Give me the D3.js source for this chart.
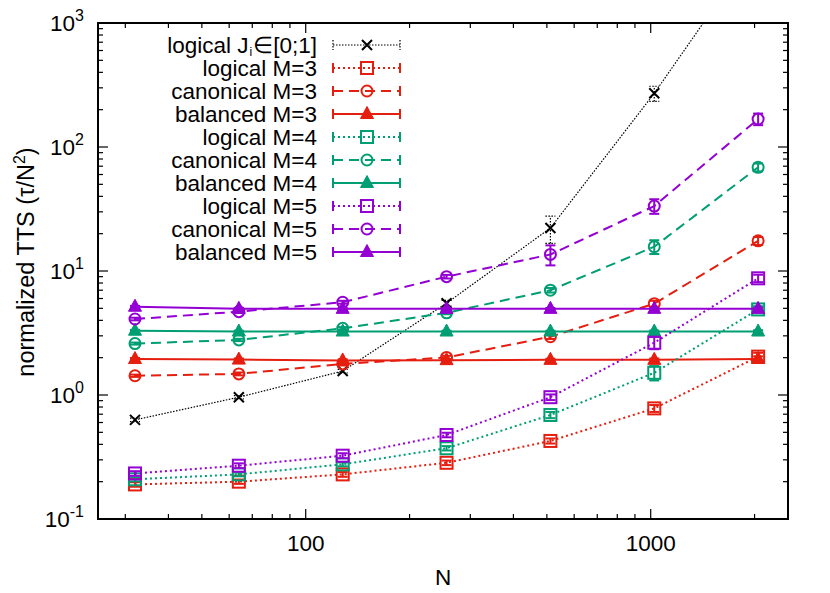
<!DOCTYPE html>
<html>
<head>
<meta charset="utf-8">
<script src="https://cdn.jsdelivr.net/npm/d3@7"></script>
<style>
  body { margin: 0; background: #fff; }
  text { font-family: "Liberation Sans", Arial, sans-serif; fill: #000; }
</style>
</head>
<body>
<script>
// system sizes on the x axis
var sizes = [32, 64, 128, 256, 512, 1024, 2048];

// normalized TTS per series, with error bar half widths
var logicalJ = [0.63, 0.96, 1.56, 5.5, 22.2, 271, 4300];
var logicalJErr = [0.02, 0.03, 0.05, 0.3, 5.5, 38, 500];

var logicalM3 = [0.19, 0.2, 0.229, 0.284, 0.426, 0.78, 2.04];
var logicalM3Err = [0.008, 0.008, 0.01, 0.012, 0.02, 0.05, 0.15];
var canonicalM3 = [1.43, 1.48, 1.78, 2.01, 2.95, 5.45, 17.5];
var canonicalM3Err = [0.03, 0.04, 0.05, 0.06, 0.12, 0.3, 1.3];
var balancedM3 = [1.95, 1.93, 1.9, 1.91, 1.92, 1.92, 1.95];
var balancedM3Err = [0.04, 0.04, 0.04, 0.04, 0.04, 0.05, 0.1];

var logicalM4 = [0.209, 0.229, 0.276, 0.372, 0.69, 1.51, 4.9];
var logicalM4Err = [0.008, 0.008, 0.01, 0.015, 0.04, 0.2, 0.3];
var canonicalM4 = [2.6, 2.78, 3.45, 4.6, 7.0, 15.7, 68.6];
var canonicalM4Err = [0.05, 0.06, 0.08, 0.12, 0.3, 2.0, 5.0];
var balancedM4 = [3.3, 3.25, 3.25, 3.25, 3.25, 3.25, 3.25];
var balancedM4Err = [0.05, 0.05, 0.05, 0.05, 0.05, 0.06, 0.08];

var logicalM5 = [0.233, 0.269, 0.324, 0.476, 0.96, 2.64, 8.73];
var logicalM5Err = [0.01, 0.012, 0.015, 0.02, 0.05, 0.3, 0.6];
var canonicalM5 = [4.1, 4.7, 5.6, 9.0, 13.6, 33.4, 168];
var canonicalM5Err = [0.1, 0.12, 0.15, 0.3, 2.5, 4.5, 18];
var balancedM5 = [5.15, 4.95, 4.95, 4.95, 4.95, 4.95, 4.95];
var balancedM5Err = [0.08, 0.08, 0.08, 0.08, 0.08, 0.08, 0.1];

// legend labels, in drawing order
var labels = ["logical J", "logical M=3", "canonical M=3", "balanced M=3",
              "logical M=4", "canonical M=4", "balanced M=4",
              "logical M=5", "canonical M=5", "balanced M=5"];

// tick values
var xMajor = [100, 1000];
var yMajor = [0.1, 1, 10, 100, 1000];
var yExponents = ["-1", "0", "1", "2", "3"];


// colours and styles (gnuplot defaults)
var red = "#e51e10", green = "#009e73", purple = "#9400d3";
var styles = {
  black:   {width: 1.2, dash: "1.5,1.5", mark: "cross"},
  logical: {width: 2, dash: "2,3", mark: "square"},
  canon:   {width: 2, dash: "10,6", mark: "circle"},
  balance: {width: 2, dash: null, mark: "triangle"}
};

var series = [
  {vals: logicalJ, err: logicalJErr, color: "#000", st: styles.black},
  {vals: logicalM3, err: logicalM3Err, color: red, st: styles.logical},
  {vals: canonicalM3, err: canonicalM3Err, color: red, st: styles.canon},
  {vals: balancedM3, err: balancedM3Err, color: red, st: styles.balance},
  {vals: logicalM4, err: logicalM4Err, color: green, st: styles.logical},
  {vals: canonicalM4, err: canonicalM4Err, color: green, st: styles.canon},
  {vals: balancedM4, err: balancedM4Err, color: green, st: styles.balance},
  {vals: logicalM5, err: logicalM5Err, color: purple, st: styles.logical},
  {vals: canonicalM5, err: canonicalM5Err, color: purple, st: styles.canon},
  {vals: balancedM5, err: balancedM5Err, color: purple, st: styles.balance}
];

// plot box and font sizes
var box = {left: 98, right: 788, top: 23, bottom: 519};
var font = "22.5px", supFont = "16px";

var svg = d3.select("body").append("svg")
            .attr("width", 830)
            .attr("height", 593);

var x = d3.scaleLog().domain([25, 2500]).range([box.left, box.right]);
var y = d3.scaleLog().domain([0.1, 1000]).range([box.bottom, box.top]);


function drawAxes() {
  /*
  ticks on all four sides, labels at the
  bottom and left, then the frame
  */
  var xMinor = x.ticks().filter(function(d) { return xMajor.indexOf(d) < 0; });
  var yMinor = y.ticks().filter(function(d) { return yMajor.indexOf(d) < 0; });
  var ticks = svg.append("g").attr("stroke", "#000").attr("stroke-width", 1.2);

  function xTicks(vals, len) {
    vals.forEach(function(d) {
      ticks.append("line").attr("x1", x(d)).attr("x2", x(d))
           .attr("y1", box.bottom).attr("y2", box.bottom - len);
      ticks.append("line").attr("x1", x(d)).attr("x2", x(d))
           .attr("y1", box.top).attr("y2", box.top + len);
    });
  }
  function yTicks(vals, len) {
    vals.forEach(function(d) {
      ticks.append("line").attr("y1", y(d)).attr("y2", y(d))
           .attr("x1", box.left).attr("x2", box.left + len);
      ticks.append("line").attr("y1", y(d)).attr("y2", y(d))
           .attr("x1", box.right).attr("x2", box.right - len);
    });
  }
  xTicks(xMajor, 10);
  xTicks(xMinor, 5);
  yTicks(yMajor, 10);
  yTicks(yMinor, 5);

  // frame
  svg.append("rect")
     .attr("x", box.left).attr("y", box.top)
     .attr("width", box.right - box.left)
     .attr("height", box.bottom - box.top)
     .attr("fill", "none").attr("stroke", "#000").attr("stroke-width", 2);

  // x tick labels
  svg.selectAll(".xlab").data(xMajor).enter()
     .append("text")
     .attr("x", function(d) { return x(d); })
     .attr("y", box.bottom + 32)
     .attr("text-anchor", "middle")
     .style("font-size", font)
     .text(function(d) { return d; });

  // y tick labels with exponents
  yMajor.forEach(function(d, i) {
    var t = svg.append("text")
               .attr("x", 84)
               .attr("y", y(d) + 8)
               .attr("text-anchor", "end")
               .style("font-size", font);
    t.append("tspan").text("10");
    t.append("tspan").attr("dy", -10).style("font-size", supFont)
     .text(yExponents[i]);
  });

  // axis titles
  svg.append("text")
     .attr("x", (box.left + box.right) / 2).attr("y", 585)
     .attr("text-anchor", "middle")
     .style("font-size", font)
     .text("N");

  var yl = svg.append("text")
              .attr("transform", "translate(34,262) rotate(-90)")
              .attr("text-anchor", "middle")
              .style("font-size", "23.5px");
  yl.append("tspan").text("normalized TTS (\u03c4/N");
  yl.append("tspan").attr("dy", -9).style("font-size", supFont).text("2");
  yl.append("tspan").attr("dy", 9).text(")");
}


function drawMarker(g, kind, cx, cy, color) {
  /*
  gnuplot style point symbols
  */
  if (kind === "square") {
    g.append("rect").attr("x", cx - 6).attr("y", cy - 6)
     .attr("width", 12).attr("height", 12)
     .attr("fill", "none").attr("stroke", color).attr("stroke-width", 2);
  }
  else if (kind === "circle") {
    g.append("circle").attr("cx", cx).attr("cy", cy).attr("r", 5.5)
     .attr("fill", "none").attr("stroke", color).attr("stroke-width", 2);
  }
  else if (kind === "triangle") {
    g.append("path")
     .attr("d", "M" + (cx - 6.5) + "," + (cy + 4.5) + "L" + (cx + 6.5) + "," +
           (cy + 4.5) + "L" + cx + "," + (cy - 7.5) + "Z")
     .attr("fill", color).attr("stroke", color).attr("stroke-width", 1);
  }
  else {
    g.append("path")
     .attr("d", "M" + (cx - 5) + "," + (cy - 5) + "L" + (cx + 5) + "," +
           (cy + 5) + "M" + (cx - 5) + "," + (cy + 5) + "L" + (cx + 5) +
           "," + (cy - 5))
     .attr("stroke", color).attr("stroke-width", 2);
  }
}


function drawSeries() {
  /*
  lines, error bars and points for every series,
  clipped to the plot box
  */
  svg.append("clipPath").attr("id", "clip")
     .append("rect")
     .attr("x", box.left).attr("y", box.top)
     .attr("width", box.right - box.left)
     .attr("height", box.bottom - box.top);

  var plot = svg.append("g").attr("clip-path", "url(#clip)");
  var line = d3.line()
               .x(function(d, i) { return x(sizes[i]); })
               .y(function(d) { return y(d); });

  series.forEach(function(s) {
    var g = plot.append("g");
    g.append("path")
     .attr("d", line(s.vals))
     .attr("fill", "none")
     .attr("stroke", s.color)
     .attr("stroke-width", s.st.width)
     .attr("stroke-dasharray", s.st.dash);

    // error bars with caps
    s.vals.forEach(function(v, i) {
      var cx = x(sizes[i]);
      var lo = y(v - s.err[i]), hi = y(v + s.err[i]);
      var eb = g.append("g")
                .attr("stroke", s.color)
                .attr("stroke-width", s.st.width)
                .attr("stroke-dasharray", s.st === styles.black ? "1.5,1.5" : null);
      eb.append("line").attr("x1", cx).attr("x2", cx).attr("y1", lo).attr("y2", hi);
      eb.append("line").attr("x1", cx - 5).attr("x2", cx + 5).attr("y1", lo).attr("y2", lo);
      eb.append("line").attr("x1", cx - 5).attr("x2", cx + 5).attr("y1", hi).attr("y2", hi);
      drawMarker(g, s.st.mark, cx, y(v), s.color);
    });
  });
}


function drawLegend() {
  /*
  key at the top left: label, sample line with
  error bar ends and the point symbol
  */
  var legend = svg.append("g");
  series.forEach(function(s, i) {
    var ly = 45 + i * 23;
    var t = legend.append("text")
                  .attr("x", 317).attr("y", ly + 7.5)
                  .attr("text-anchor", "end")
                  .style("font-size", font);
    if (i === 0) {
      t.append("tspan").text("logical J");
      t.append("tspan").attr("dx", 1).attr("dy", 3)
       .style("font-size", "12px").text("i");
      t.append("tspan").attr("dx", 1).attr("dy", -3).text("\u2208[0;1]");
    }
    else {
      t.text(labels[i]);
    }
    var g = legend.append("g");
    g.append("line").attr("x1", 333).attr("x2", 400)
     .attr("y1", ly).attr("y2", ly)
     .attr("stroke", s.color).attr("stroke-width", s.st.width)
     .attr("stroke-dasharray", s.st.dash);
    [333, 400].forEach(function(ex) {
      g.append("line").attr("x1", ex).attr("x2", ex)
       .attr("y1", ly - 5).attr("y2", ly + 5)
       .attr("stroke", s.color).attr("stroke-width", s.st.width)
       .attr("stroke-dasharray", i === 0 ? "1.5,1.5" : null);
    });
    drawMarker(g, s.st.mark, 367, ly, s.color);
  });
}

drawAxes();
drawSeries();
drawLegend();
</script>
</body>
</html>
